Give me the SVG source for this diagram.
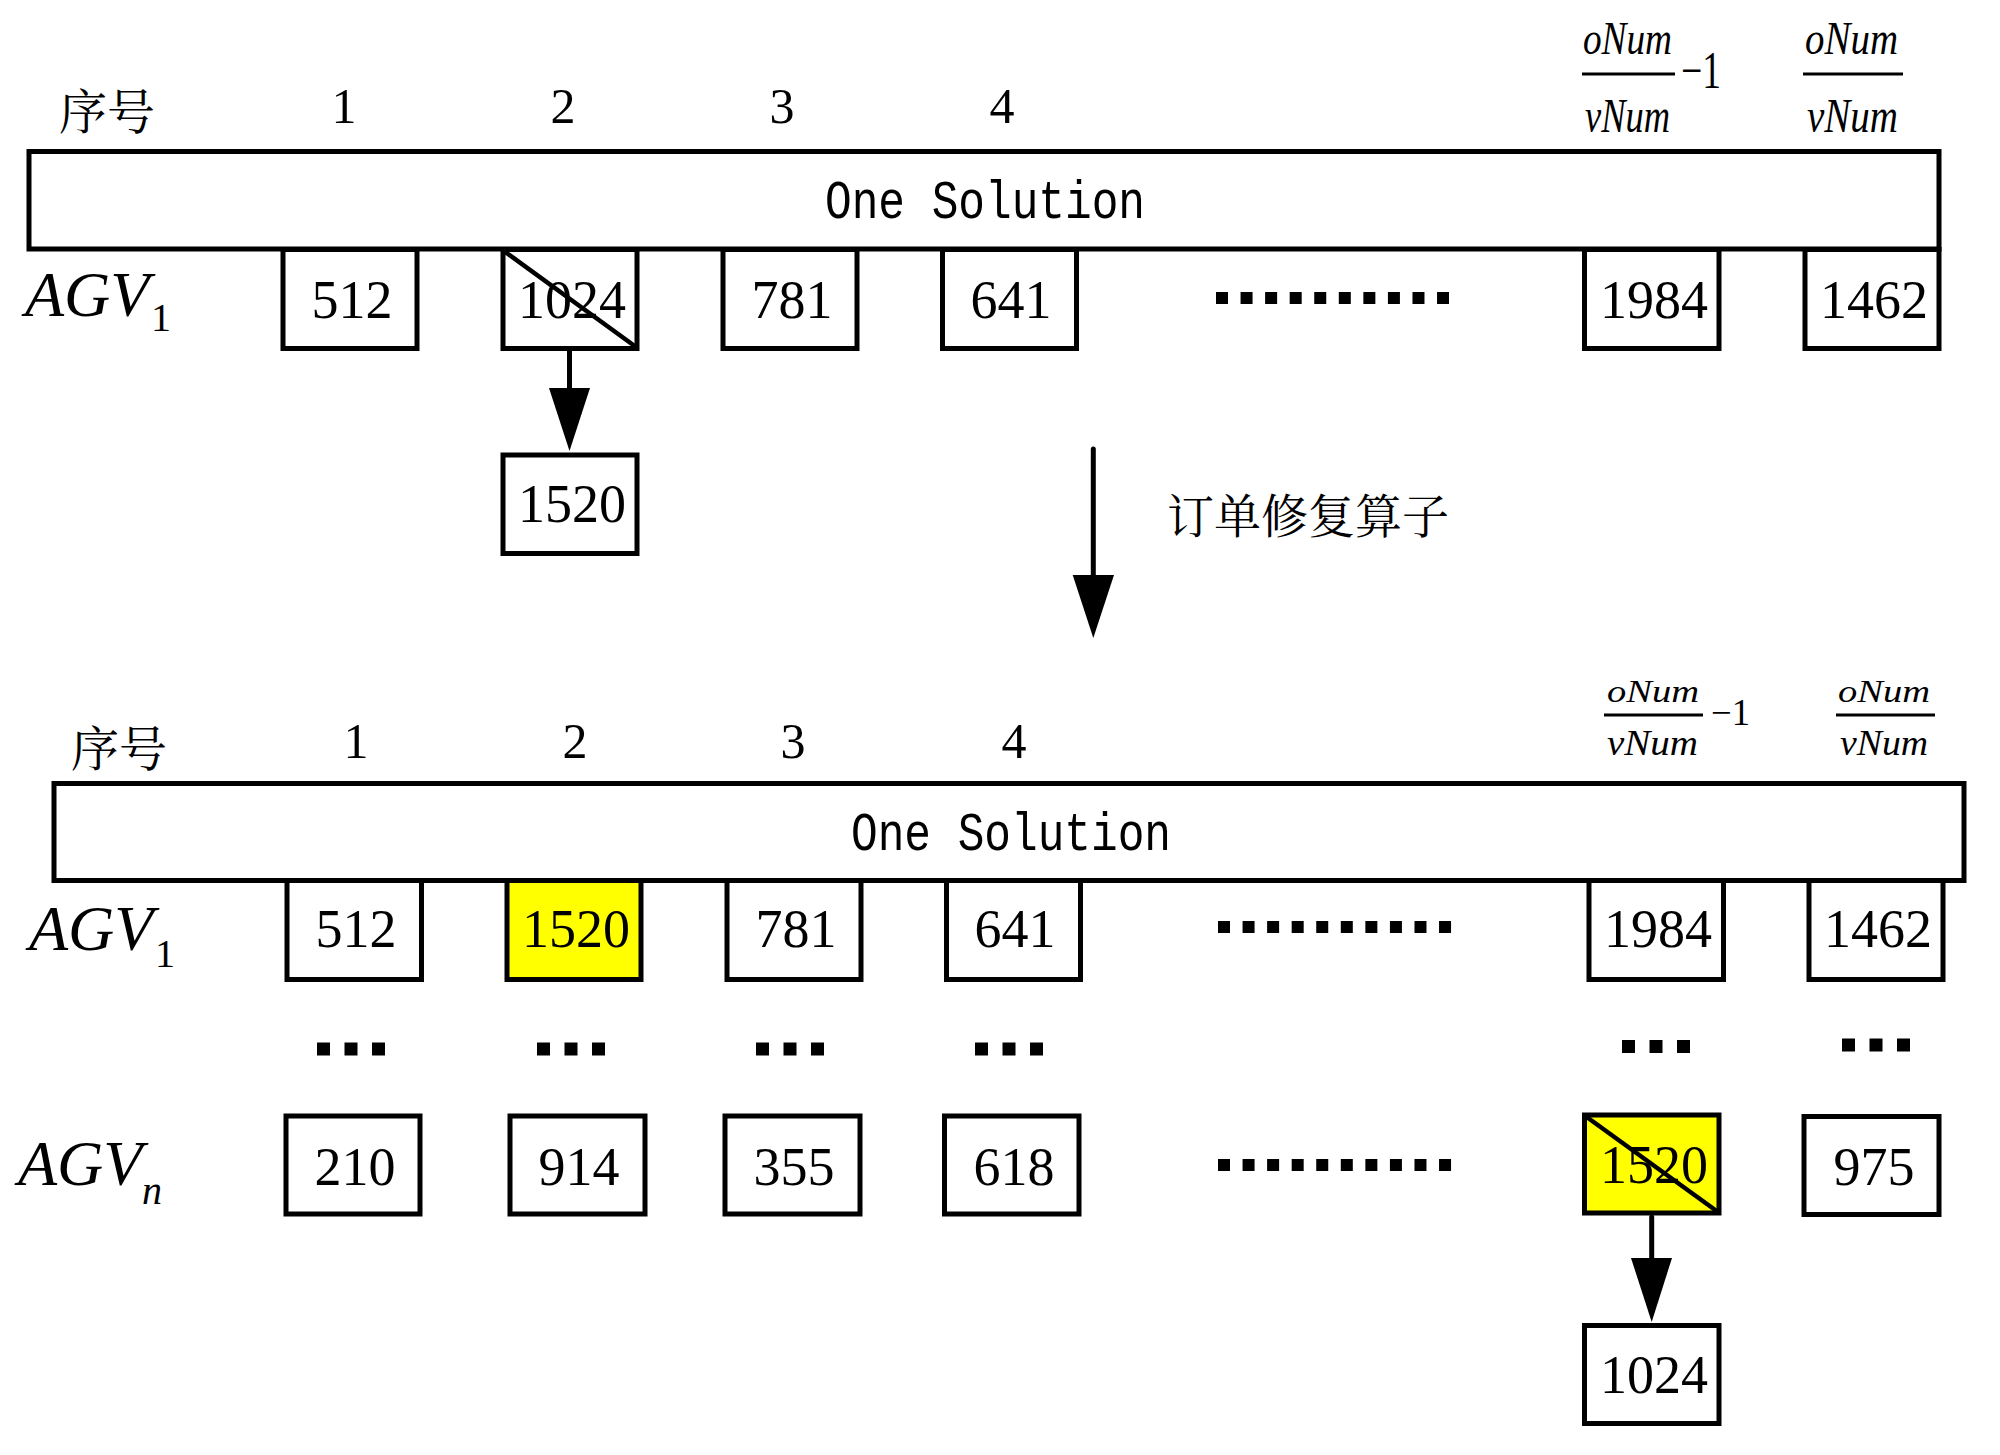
<svg xmlns="http://www.w3.org/2000/svg" width="2000" height="1455" viewBox="0 0 2000 1455">
<style>
.bg{fill:#fff}
.sol{fill:#fff;stroke:#000;stroke-width:5}
.box{fill:#fff;stroke:#000;stroke-width:5}
.yel{fill:#ffff00}
.cross{stroke:#000;stroke-width:4.5;fill:none}
.num{font-family:"Liberation Serif","Times New Roman",serif;font-size:54px;text-anchor:middle;fill:#000}
.lbl{font-family:"Liberation Serif","Times New Roman",serif;font-size:50px;text-anchor:middle;fill:#000}
.ser{font-family:"Liberation Serif","Times New Roman",serif;fill:#000}
.it{font-style:italic}
.cjk{font-family:"Noto Serif CJK SC","Noto Sans CJK SC",sans-serif;fill:#000}
.mono{font-family:"Liberation Mono","Courier New",monospace;font-size:54px;fill:#000}
.fl{stroke:#000;stroke-width:3}
.dl{stroke:#000;stroke-width:12;stroke-dasharray:12 12.56;fill:none}
.d3{stroke:#000;stroke-width:13;stroke-dasharray:13 14.5;fill:none}
.shaft{stroke:#000;stroke-width:5;fill:none;stroke-linecap:round}
.head{fill:#000}
</style>
<rect class="bg" x="0" y="0" width="2000" height="1455"/>

<!-- ===== Top section ===== -->
<g id="top-header">
  <text class="cjk" x="59" y="129" font-size="48">序号</text>
  <text class="lbl" x="344" y="123">1</text>
  <text class="lbl" x="563" y="123">2</text>
  <text class="lbl" x="782" y="123">3</text>
  <text class="lbl" x="1002" y="123">4</text>
</g>
<g id="top-frac1">
  <text class="ser it" x="1583" y="54" font-size="47" textLength="89" lengthAdjust="spacingAndGlyphs">oNum</text>
  <line class="fl" x1="1582" y1="74" x2="1675" y2="74"/>
  <text class="ser it" x="1585" y="132" font-size="49" textLength="85" lengthAdjust="spacingAndGlyphs">vNum</text>
  <text class="ser" x="1681" y="88" font-size="52" textLength="40" lengthAdjust="spacingAndGlyphs">−1</text>
</g>
<g id="top-frac2">
  <text class="ser it" x="1805" y="54" font-size="47" textLength="93" lengthAdjust="spacingAndGlyphs">oNum</text>
  <line class="fl" x1="1803" y1="74" x2="1903" y2="74"/>
  <text class="ser it" x="1807" y="132" font-size="49" textLength="91" lengthAdjust="spacingAndGlyphs">vNum</text>
</g>
<g id="top-solution">
  <rect class="sol" x="29" y="151.5" width="1910" height="97.5"/>
  <text class="mono" x="825" y="218" textLength="320" lengthAdjust="spacingAndGlyphs">One Solution</text>
</g>
<g id="top-agv1">
  <text class="ser it" x="25" y="316" font-size="64">AGV</text>
  <text class="ser" x="151" y="331" font-size="40">1</text>
</g>
<g id="t512"><rect class="box" x="283" y="249.5" width="134" height="99"/><text class="num" x="352" y="318">512</text></g>
<g id="t1024"><rect class="box" x="503" y="249.5" width="134" height="99"/><text class="num" x="572" y="318">1024</text><line class="cross" x1="504" y1="251" x2="636" y2="347"/></g>
<g id="t781"><rect class="box" x="723" y="249.5" width="134" height="99"/><text class="num" x="792" y="318">781</text></g>
<g id="t641"><rect class="box" x="942.5" y="249.5" width="134" height="99"/><text class="num" x="1011" y="318">641</text></g>
<g id="t1984"><rect class="box" x="1584.5" y="249.5" width="134.5" height="99"/><text class="num" x="1654" y="318">1984</text></g>
<g id="t1462"><rect class="box" x="1805" y="249.5" width="134" height="99"/><text class="num" x="1874" y="318">1462</text></g>
<g id="t-dots"><line class="dl" x1="1216" y1="298" x2="1449" y2="298"/></g>
<g id="t1520"><rect class="box" x="503" y="455" width="134" height="98.5"/><text class="num" x="572" y="522">1520</text></g>
<g id="op-label"><text class="cjk" x="1167" y="533" font-size="47">订单修复算子</text></g>

<!-- ===== Bottom section ===== -->
<g id="bot-header">
  <text class="cjk" x="71" y="766" font-size="48">序号</text>
  <text class="lbl" x="356" y="758">1</text>
  <text class="lbl" x="575" y="758">2</text>
  <text class="lbl" x="793" y="758">3</text>
  <text class="lbl" x="1014" y="758">4</text>
</g>
<g id="bot-frac1">
  <text class="ser it" x="1607" y="702" font-size="31" textLength="92" lengthAdjust="spacingAndGlyphs">oNum</text>
  <line class="fl" x1="1604" y1="715" x2="1703" y2="715"/>
  <text class="ser it" x="1607" y="755" font-size="35" textLength="91" lengthAdjust="spacingAndGlyphs">vNum</text>
  <text class="ser" x="1711" y="725" font-size="37" textLength="39" lengthAdjust="spacingAndGlyphs">−1</text>
</g>
<g id="bot-frac2">
  <text class="ser it" x="1838" y="702" font-size="31" textLength="92" lengthAdjust="spacingAndGlyphs">oNum</text>
  <line class="fl" x1="1836" y1="715" x2="1935" y2="715"/>
  <text class="ser it" x="1840" y="755" font-size="35" textLength="88" lengthAdjust="spacingAndGlyphs">vNum</text>
</g>
<g id="bot-solution">
  <rect class="sol" x="54" y="783.5" width="1910" height="97"/>
  <text class="mono" x="851" y="850" textLength="320" lengthAdjust="spacingAndGlyphs">One Solution</text>
</g>
<g id="bot-agv1">
  <text class="ser it" x="29" y="950" font-size="64">AGV</text>
  <text class="ser" x="155" y="967" font-size="40">1</text>
</g>
<g id="b512"><rect class="box" x="287" y="880.5" width="134.5" height="99"/><text class="num" x="356" y="947">512</text></g>
<g id="b1520"><rect class="box yel" x="507" y="880.5" width="134" height="99"/><text class="num" x="576" y="947">1520</text></g>
<g id="b781"><rect class="box" x="727" y="880.5" width="134" height="99"/><text class="num" x="796" y="947">781</text></g>
<g id="b641"><rect class="box" x="946.5" y="880.5" width="134" height="99"/><text class="num" x="1015" y="947">641</text></g>
<g id="b1984"><rect class="box" x="1589" y="880.5" width="134.5" height="99"/><text class="num" x="1658" y="947">1984</text></g>
<g id="b1462"><rect class="box" x="1809" y="880.5" width="134" height="99"/><text class="num" x="1878" y="947">1462</text></g>
<g id="b-dots1"><line class="dl" x1="1218" y1="927" x2="1453" y2="927"/></g>

<g id="b-vdots">
  <line class="d3" x1="317" y1="1049" x2="385" y2="1049"/>
  <line class="d3" x1="537" y1="1049" x2="605" y2="1049"/>
  <line class="d3" x1="756" y1="1049" x2="824" y2="1049"/>
  <line class="d3" x1="975" y1="1049" x2="1043" y2="1049"/>
  <line class="d3" x1="1622" y1="1046.5" x2="1690" y2="1046.5"/>
  <line class="d3" x1="1842" y1="1045" x2="1910" y2="1045"/>
</g>

<g id="bot-agvn">
  <text class="ser it" x="18" y="1185" font-size="64">AGV</text>
  <text class="ser it" x="142" y="1204" font-size="40">n</text>
</g>
<g id="n210"><rect class="box" x="286" y="1116" width="134" height="98"/><text class="num" x="355" y="1185">210</text></g>
<g id="n914"><rect class="box" x="510" y="1116" width="135" height="98"/><text class="num" x="579" y="1185">914</text></g>
<g id="n355"><rect class="box" x="725" y="1116" width="135" height="98"/><text class="num" x="794" y="1185">355</text></g>
<g id="n618"><rect class="box" x="944.5" y="1116" width="134.5" height="98"/><text class="num" x="1014" y="1185">618</text></g>
<g id="n1520"><rect class="box yel" x="1584.5" y="1115" width="134.5" height="98"/><text class="num" x="1654" y="1183">1520</text><line class="cross" x1="1586" y1="1116.5" x2="1718" y2="1212"/></g>
<g id="n975"><rect class="box" x="1804" y="1116.5" width="135" height="98"/><text class="num" x="1874" y="1185">975</text></g>
<g id="n-dots"><line class="dl" x1="1218" y1="1165" x2="1453" y2="1165"/></g>
<g id="n1024"><rect class="box" x="1584.5" y="1325.5" width="134.5" height="98"/><text class="num" x="1654" y="1393">1024</text></g>

<!-- ===== Connectors ===== -->
<g id="connectors">
  <line class="shaft" x1="569.5" y1="351" x2="569.5" y2="395"/>
  <polygon class="head" points="549,388 590,388 569.5,451"/>
  <line class="shaft" x1="1093.3" y1="449" x2="1093.3" y2="582"/>
  <polygon class="head" points="1072.7,575 1114,575 1093.3,638"/>
  <line class="shaft" x1="1651.7" y1="1217" x2="1651.7" y2="1265"/>
  <polygon class="head" points="1631,1258 1672,1258 1651.7,1322"/>
</g>
</svg>
